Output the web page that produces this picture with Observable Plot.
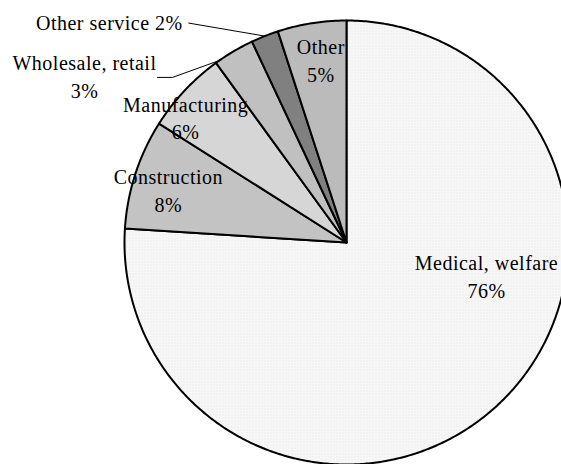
<!DOCTYPE html>
<html>
<head>
<meta charset="utf-8">
<script src="https://cdn.jsdelivr.net/npm/d3@7"></script>
<script src="https://cdn.jsdelivr.net/npm/@observablehq/plot@0.6"></script>
<style>
  html, body { margin: 0; padding: 0; background: #fff; overflow: hidden; }
  #chart { width: 561px; height: 464px; overflow: hidden; }
</style>
</head>
<body>
<div id="chart"></div>
<script>
// ---- data (clockwise from 12 o'clock) ----
const categories = ["Medical, welfare", "Construction", "Manufacturing", "Wholesale, retail", "Other service", "Other"];
const shares = [76, 8, 6, 3, 2, 5];

// ---- styles ----
const fills = ["url(#pMed)", "url(#pCon)", "url(#pMan)", "#c0c0c0", "#808080", "url(#pOth)"];
// label styling: separator between name and value, text anchor, pixel nudge from the rim point at mid-angle
const labelStyle = [
  {sep: "\n", anchor: "middle", dx: -12, dy: -129},
  {sep: "\n", anchor: "middle", dx: 33, dy: 15},
  {sep: "\n", anchor: "middle", dx: 1, dy: 26},
  {sep: "\n", anchor: "middle", dx: -149, dy: 24},
  {sep: " ",  anchor: "end",    dx: -82, dy: -15},
  {sep: "\n", anchor: "middle", dx: 9, dy: 36}
];

const W = 561, H = 464, cx = 346, cy = 242, R = 222;

const arcs = d3.pie().sort(null).value(d => d)(shares);

// polygon points for each slice on unit circle
const slicePts = arcs.map((a, i) => {
  const pts = [{x: 0, y: 0, k: i}];
  const n = Math.max(2, Math.ceil((a.endAngle - a.startAngle) / (Math.PI / 360)));
  for (let j = 0; j <= n; j++) {
    const t = a.startAngle + (a.endAngle - a.startAngle) * j / n;
    pts.push({x: Math.sin(t), y: Math.cos(t), k: i});
  }
  return pts;
});

const rimAt = (a, f) => {
  const t = a.startAngle + (a.endAngle - a.startAngle) * f;
  return {x: Math.sin(t), y: Math.cos(t)};
};

const marks = [];
slicePts.forEach((pts, i) => {
  marks.push(Plot.line(pts, {
    x: "x", y: "y", curve: "linear-closed",
    fill: fills[i], stroke: "#000", strokeWidth: 2, strokeLinejoin: "round"
  }));
});

// leader lines (converted from pixel offsets to data units)
const px = (p, ox, oy) => ({x: p.x + ox / R, y: p.y - oy / R});
{
  // Other service
  const i = 4, m = rimAt(arcs[i], 0.5), s = labelStyle[i];
  const start = px(m, s.dx + 6, s.dy + 2);
  marks.push(Plot.line([start, m], {x: "x", y: "y", stroke: "#000", strokeWidth: 1}));
}
{
  // Wholesale, retail
  const i = 3, m = rimAt(arcs[i], 0.5), s = labelStyle[i];
  const p1 = px(m, s.dx + 73, s.dy + 2);
  const p2 = px(m, s.dx + 88, s.dy + 2);
  const end = rimAt(arcs[i], 0.1);
  marks.push(Plot.line([p1, p2, end], {x: "x", y: "y", stroke: "#000", strokeWidth: 1}));
}

// labels
arcs.forEach((a, i) => {
  const m = rimAt(a, 0.5), s = labelStyle[i];
  marks.push(Plot.text([{x: m.x, y: m.y, t: categories[i] + s.sep + shares[i] + "%"}], {
    x: "x", y: "y", text: "t",
    dx: s.dx, dy: s.dy,
    textAnchor: s.anchor, lineAnchor: "middle", lineHeight: 1.38,
    fontSize: 20, fontFamily: "Liberation Serif", fill: "#000"
  }));
});

const svg = Plot.plot({
  width: W, height: H, margin: 0,
  style: {background: "#fff", overflow: "hidden", letterSpacing: "0.5px"},
  x: {domain: [-1, 1], range: [cx - R, cx + R], axis: null},
  y: {domain: [-1, 1], range: [cy + R, cy - R], axis: null},
  marks
});

// patterns
const defs = d3.select(svg).insert("defs", ":first-child");
function pattern(id, w, h, bg, cells) {
  const p = defs.append("pattern").attr("id", id).attr("patternUnits", "userSpaceOnUse")
    .attr("width", w).attr("height", h);
  p.append("rect").attr("width", w).attr("height", h).attr("fill", bg);
  cells.forEach(c => p.append("rect").attr("x", c[0]).attr("y", c[1]).attr("width", c[2]).attr("height", c[3]).attr("fill", c[4]));
}
pattern("pMed", 3, 3, "#f7f7f7", [[0, 0, 1, 1, "#e4e4e4"]]);
pattern("pCon", 2, 2, "#e6e6e6", [[0, 0, 1, 1, "#a0a0a0"], [1, 1, 1, 1, "#a0a0a0"]]);
pattern("pMan", 2, 2, "#f0f0f0", [[0, 1, 2, 1, "#bcbcbc"]]);
pattern("pOth", 2, 2, "#dcdcdc", [[0, 0, 1, 1, "#9a9a9a"], [1, 1, 1, 1, "#9a9a9a"]]);

document.getElementById("chart").appendChild(svg);
</script>
</body>
</html>
